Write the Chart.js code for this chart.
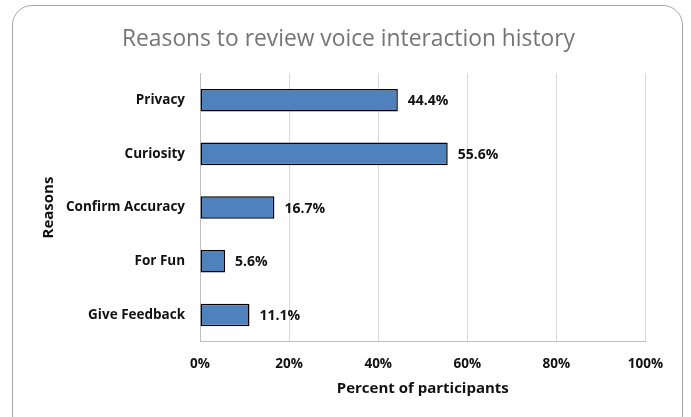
<!DOCTYPE html>
<html>
<head>
<meta charset="utf-8">
<script src="https://cdn.jsdelivr.net/npm/chart.js@4.4.0/dist/chart.umd.min.js"></script>
<style>
  html, body { margin: 0; padding: 0; background: #fff; }
  #wrap { position: relative; width: 691px; height: 417px; overflow: hidden; }
  #frame {
    position: absolute; left: 12px; top: 5px; width: 671px; height: 430px;
    border: 1px solid #a6a6a6; border-radius: 20px; box-sizing: border-box;
  }
  canvas { position: absolute; left: 0; top: 0; }
</style>
</head>
<body>
<div id="wrap">
  <div id="frame"></div>
  <canvas id="reasonsChart" width="691" height="417"></canvas>
</div>
<script>
// values
var reasons = ['Privacy', 'Curiosity', 'Confirm Accuracy', 'For Fun', 'Give Feedback'];
var percents = [44.4, 55.6, 16.7, 5.6, 11.1];
var xTicks = [0, 20, 40, 60, 80, 100];

var FONT = "'Open Sans', sans-serif";

// simple value labels at the end of each bar
var barLabels = {
    id: 'barLabels',
    afterDatasetsDraw: function(chart) {
        var ctx = chart.ctx;
        var meta = chart.getDatasetMeta(0);
        ctx.save();
        ctx.font = 'bold 14px ' + FONT;
        ctx.fillStyle = '#111';
        ctx.textAlign = 'left';
        ctx.textBaseline = 'middle';
        meta.data.forEach(function(bar, i) {
            ctx.fillText(percents[i].toFixed(1) + '%', bar.x + 10, bar.y + 1);
        });
        ctx.restore();
    }
};

var ctx = document.getElementById('reasonsChart').getContext('2d');
var reasonsChart = new Chart(ctx, {
    type: 'bar',
    data: {
        labels: reasons,
        datasets: [{
            data: percents,
            backgroundColor: '#4f81bd',
            borderColor: '#000',
            borderWidth: 1.5,
            borderSkipped: false,
            barPercentage: 0.42,
            categoryPercentage: 1
        }]
    },
    options: {
        indexAxis: 'y',
        responsive: false,
        animation: false,
        layout: { padding: { left: 33, right: 27, top: 14, bottom: 15 } },
        plugins: {
            legend: { display: false },
            tooltip: { enabled: false },
            title: {
                display: true,
                text: 'Reasons to review voice interaction history',
                color: '#757575',
                font: { family: FONT, size: 22.8, weight: 'normal' },
                padding: { top: 12, bottom: 20 }
            }
        },
        scales: {
            x: {
                min: 0,
                max: 100,
                afterBuildTicks: function(axis) {
                    axis.ticks = xTicks.map(function(v) { return { value: v }; });
                },
                // keep the plot's right edge in from the title's centring box
                afterFit: function(axis) { axis.paddingRight = 45.5; },
                grid: { color: '#d9d9d9', drawTicks: false },
                border: { color: '#bfbfbf' },
                ticks: {
                    padding: 14,
                    color: '#111',
                    font: { family: FONT, size: 13.5, weight: 'bold' },
                    callback: function(v) { return v + '%'; }
                },
                title: {
                    display: true,
                    text: 'Percent of participants',
                    color: '#111',
                    font: { family: FONT, size: 15, weight: 'bold' },
                    padding: { top: -6, bottom: 4 }
                }
            },
            y: {
                grid: { display: false, drawTicks: false },
                border: { color: '#bfbfbf' },
                ticks: {
                    padding: 15,
                    color: '#111',
                    font: { family: FONT, size: 13.5, weight: 'bold' }
                },
                title: {
                    display: true,
                    text: 'Reasons',
                    color: '#111',
                    font: { family: FONT, size: 15, weight: 'bold' },
                    padding: { top: 7, bottom: -7 }
                }
            }
        }
    },
    plugins: [barLabels]
});
</script>
</body>
</html>
